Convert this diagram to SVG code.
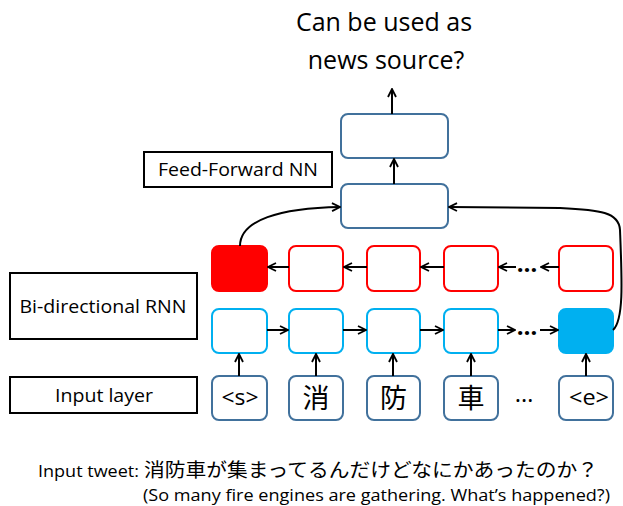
<svg xmlns="http://www.w3.org/2000/svg" width="623" height="506" viewBox="0 0 623 506">
<style>
.lbl{fill:#fff;stroke:#000;stroke-width:2}
.t{font-family:"Open Sans","Noto Sans","Noto Sans CJK JP",sans-serif;fill:#000}
.ff{fill:#fff;stroke:#41719C;stroke-width:2}
.red{fill:#fff;stroke:#FF0000;stroke-width:2}
.blue{fill:#fff;stroke:#00B0F0;stroke-width:2}
.inp{fill:#fff;stroke:#41719C;stroke-width:2}
.c{fill:none;stroke:#000;stroke-width:2}
</style>
<defs>
<marker id="ah" viewBox="0 0 10 10" refX="9" refY="5" markerWidth="10" markerHeight="10" markerUnits="userSpaceOnUse" orient="auto">
<path d="M1,1 L9,5 L1,9" fill="none" stroke="#000" stroke-width="1.8"/>
</marker>
</defs>
<text class="t" x="384" y="31" font-size="25" text-anchor="middle">Can be used as</text>
<text class="t" x="386" y="69" font-size="25" text-anchor="middle">news source?</text>
<g id="lbl-ff"><rect class="lbl" x="144" y="152" width="188" height="35"/><text class="t" x="238" y="176" font-size="18.5" text-anchor="middle" textLength="160" lengthAdjust="spacingAndGlyphs">Feed-Forward NN</text></g>
<g id="lbl-rnn"><rect class="lbl" x="10" y="273" width="187" height="66"/><text class="t" x="103" y="313" font-size="18.5" text-anchor="middle" textLength="167" lengthAdjust="spacingAndGlyphs">Bi-directional RNN</text></g>
<g id="lbl-in"><rect class="lbl" x="10" y="377" width="187" height="36"/><text class="t" x="104" y="402" font-size="18.5" text-anchor="middle" textLength="98" lengthAdjust="spacingAndGlyphs">Input layer</text></g>
<g id="ff2"><rect class="ff" x="341" y="114" width="107" height="44" rx="7"/></g>
<g id="ff1"><rect class="ff" x="341" y="184" width="107" height="44" rx="7"/></g>
<g id="r1"><rect x="212" y="246" width="55" height="45" rx="7" fill="#FF0000" stroke="#FF0000" stroke-width="2"/></g>
<g id="r2"><rect class="red" x="289" y="246" width="54" height="45" rx="7"/></g>
<g id="r3"><rect class="red" x="367" y="246" width="53" height="45" rx="7"/></g>
<g id="r4"><rect class="red" x="444" y="246" width="54" height="45" rx="7"/></g>
<g id="r5"><rect class="red" x="559" y="246" width="54" height="45" rx="7"/></g>
<g id="b1"><rect class="blue" x="212" y="309" width="55" height="44" rx="7"/></g>
<g id="b2"><rect class="blue" x="289" y="309" width="54" height="44" rx="7"/></g>
<g id="b3"><rect class="blue" x="367" y="309" width="53" height="44" rx="7"/></g>
<g id="b4"><rect class="blue" x="444" y="309" width="54" height="44" rx="7"/></g>
<g id="b5"><rect x="559" y="309" width="54" height="44" rx="7" fill="#00B0F0" stroke="#00B0F0" stroke-width="2"/></g>
<g id="i1"><rect class="inp" x="212" y="376" width="55" height="44" rx="7"/><text class="t" x="240" y="405" font-size="21" text-anchor="middle" textLength="37" lengthAdjust="spacingAndGlyphs">&lt;s&gt;</text></g>
<g id="i2"><rect class="inp" x="289" y="376" width="54" height="44" rx="7"/><text class="t" x="316" y="408" font-size="27" text-anchor="middle">消</text></g>
<g id="i3"><rect class="inp" x="367" y="376" width="53" height="44" rx="7"/><text class="t" x="393.5" y="408" font-size="27" text-anchor="middle">防</text></g>
<g id="i4"><rect class="inp" x="444" y="376" width="54" height="44" rx="7"/><text class="t" x="471" y="408" font-size="27" text-anchor="middle">車</text></g>
<g id="i5"><rect class="inp" x="559" y="376" width="54" height="44" rx="7"/><text class="t" x="589" y="405" font-size="21" text-anchor="middle" textLength="40" lengthAdjust="spacingAndGlyphs">&lt;e&gt;</text></g>
<text class="t" x="524" y="402" font-size="24" text-anchor="middle">…</text>
<g id="connectors">
<line class="c" x1="392" y1="114" x2="392" y2="89" marker-end="url(#ah)"/>
<line class="c" x1="394" y1="184" x2="394" y2="159" marker-end="url(#ah)"/>
<path class="c" d="M240,246 C240,220 280,208 340,207" marker-end="url(#ah)"/>
<path class="c" d="M613,330 C624,320 622,280 620,230 C619,212 600,210 560,208 L449,207" marker-end="url(#ah)"/>
<line class="c" x1="239" y1="376" x2="239" y2="354" marker-end="url(#ah)"/>
<line class="c" x1="316" y1="376" x2="316" y2="354" marker-end="url(#ah)"/>
<line class="c" x1="393" y1="376" x2="393" y2="354" marker-end="url(#ah)"/>
<line class="c" x1="471" y1="376" x2="471" y2="354" marker-end="url(#ah)"/>
<line class="c" x1="586" y1="376" x2="586" y2="354" marker-end="url(#ah)"/>
<line class="c" x1="267" y1="330" x2="288" y2="330" marker-end="url(#ah)"/>
<line class="c" x1="343" y1="330" x2="366" y2="330" marker-end="url(#ah)"/>
<line class="c" x1="420" y1="330" x2="443" y2="330" marker-end="url(#ah)"/>
<line class="c" x1="498" y1="330" x2="515" y2="330" marker-end="url(#ah)"/>
<line class="c" x1="540" y1="330" x2="558" y2="330" marker-end="url(#ah)"/>
<line class="c" x1="289" y1="267" x2="268" y2="267" marker-end="url(#ah)"/>
<line class="c" x1="367" y1="267" x2="344" y2="267" marker-end="url(#ah)"/>
<line class="c" x1="444" y1="267" x2="421" y2="267" marker-end="url(#ah)"/>
<line class="c" x1="516" y1="267" x2="499" y2="267" marker-end="url(#ah)"/>
<line class="c" x1="559" y1="267" x2="541" y2="267" marker-end="url(#ah)"/>
</g>
<text class="t" x="527" y="335" font-size="24" text-anchor="middle" font-weight="bold">…</text>
<text class="t" x="527" y="272" font-size="24" text-anchor="middle" font-weight="bold">…</text>
<text class="t" x="38" y="477" font-size="17" textLength="101" lengthAdjust="spacingAndGlyphs">Input tweet:</text>
<text class="t" x="144" y="477" font-size="19" textLength="454" lengthAdjust="spacingAndGlyphs">消防車が集まってるんだけどなにかあったのか？</text>
<text class="t" x="143" y="501" font-size="16.5" textLength="467" lengthAdjust="spacingAndGlyphs">(So many fire engines are gathering. What’s happened?)</text>
</svg>
